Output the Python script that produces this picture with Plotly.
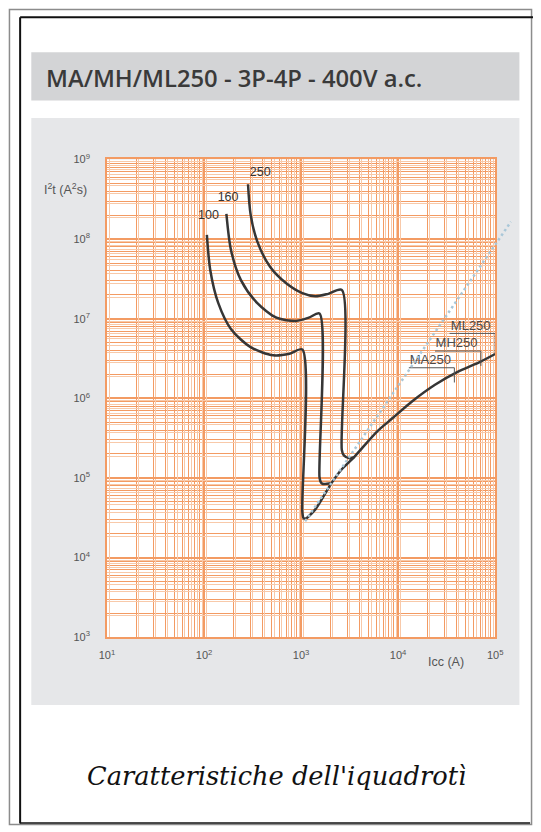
import plotly.graph_objects as go

W, H = 541, 832

# ---------------- data ----------------
x_tick_vals = [1e1, 1e2, 1e3, 1e4, 1e5]
x_tick_text = ["10<sup>1</sup>", "10<sup>2</sup>", "10<sup>3</sup>", "10<sup>4</sup>", "10<sup>5</sup>"]
y_tick_vals = [1e3, 1e4, 1e5, 1e6, 1e7, 1e8, 1e9]
y_tick_text = ["10<sup>3</sup>", "10<sup>4</sup>", "10<sup>5</sup>", "10<sup>6</sup>",
               "10<sup>7</sup>", "10<sup>8</sup>", "10<sup>9</sup>"]

# thermal-magnetic curves (Icc [A], I2t [A2s]) for the three rated currents
c100_I = [107, 116, 140, 190, 302, 516, 759, 1030, 1030, 1062, 1130]
c100_E = [1.13e8, 4.06e7, 1.58e7, 7.38e6, 4.39e6, 3.47e6, 3.63e6, 4.11e6, 3.8e4, 3.12e4, 3.09e4]

c160_I = [170, 190, 240, 352, 558, 885, 1202, 1549, 1549, 1600, 1660, 2056]
c160_E = [2.07e8, 7.18e7, 3.05e7, 1.58e7, 1.03e7, 9.37e6, 1.03e7, 1.16e7, 1.02e5, 8.8e4, 8.45e4, 8.6e4]

c250_I = [284, 302, 352, 479, 703, 1030, 1403, 1905, 2630, 2630, 2760, 3162, 3524]
c250_E = [4.88e8, 2.04e8, 9.5e7, 4.48e7, 2.78e7, 2.09e7, 1.91e7, 2.05e7, 2.3e7, 2.25e5, 1.92e5, 1.77e5, 1.83e5]

# let-through energy curve (common branch)
let_I = [1130, 1403, 2056, 2588, 3524, 6026, 8851, 1.40e4, 2.4e4, 4.1e4, 7.0e4, 1.0e5]
let_E = [3.09e4, 4.03e4, 8.6e4, 1.26e5, 1.83e5, 3.8e5, 5.7e5, 9.2e5, 1.48e6, 2.15e6, 2.87e6, 3.6e6]

# dotted reference line
ref_I = [1100, 1.455e5]
ref_E = [2.86e4, 1.65e8]

# breaking capacity markers
brk_names = ["ML250", "MH250", "MA250"]
brk_Icu = [1.0e5, 7.13e4, 3.8e4]
brk_start = [3.39e4, 2.4e4, 1.29e4]
brk_level = [6.53e6, 3.92e6, 2.42e6]
brk_bottom = [3.6e6, 2.55e6, 1.58e6]
brk_text_I = [5.6e4, 4.0e4, 2.15e4]
brk_text_E = [8.0e6, 4.8e6, 2.97e6]

curve_names = ["100", "160", "250"]
curve_lab_I = [111, 177, 380]
curve_lab_E = [1.94e8, 3.27e8, 6.7e8]

# ---------------- geometry helpers (pixels -> paper) ----------------
def px(x):
    return x / W

def py(y):
    return 1 - y / H

PL, PR, PT, PB = 102, 502, 154, 640

ORANGE = "#f39b63"
PALE = "#f8c9a9"
CURVE = "#363636"
TICKFONT = dict(family="Liberation Sans, Arial, sans-serif", size=11, color="#555555")
LABFONT = dict(family="Liberation Sans, Arial, sans-serif", size=12.5, color="#555555")

fig = go.Figure()

for I, E in [(c100_I, c100_E), (c160_I, c160_E), (c250_I, c250_E), (let_I, let_E)]:
    fig.add_trace(go.Scatter(x=I, y=E, mode="lines",
                             line=dict(color=CURVE, width=2.5, shape="spline", smoothing=0.8),
                             hoverinfo="skip", showlegend=False))

for Icu, s, lv, b in zip(brk_Icu, brk_start, brk_level, brk_bottom):
    fig.add_trace(go.Scatter(x=[s, Icu, Icu], y=[lv, lv, b], mode="lines",
                             line=dict(color="#555555", width=1),
                             hoverinfo="skip", showlegend=False))

fig.add_trace(go.Scatter(x=brk_text_I, y=brk_text_E, mode="text", text=brk_names,
                         textfont=dict(family="Liberation Sans, Arial", size=13, color="#4a4a4a"),
                         hoverinfo="skip", showlegend=False))

fig.add_trace(go.Scatter(x=curve_lab_I, y=curve_lab_E, mode="text", text=curve_names,
                         textfont=dict(family="Liberation Sans, Arial", size=12.5, color="#333333"),
                         hoverinfo="skip", showlegend=False))

fig.add_trace(go.Scatter(x=[], y=[], xaxis="x2", yaxis="y2", showlegend=False, hoverinfo="skip"))

fig.add_trace(go.Scatter(x=ref_I, y=ref_E, xaxis="x3", yaxis="y3", mode="lines",
                         line=dict(color="#a9c7d8", width=2.5, dash="2.5px,3px"),
                         hoverinfo="skip", showlegend=False))

dom_x = [px(PL), px(PR)]
dom_y = [py(PB), py(PT)]

fig.update_layout(
    width=W, height=H, autosize=False,
    margin=dict(l=0, r=0, t=0, b=0),
    paper_bgcolor="white",
    plot_bgcolor="rgba(0,0,0,0)",
    showlegend=False,
    xaxis=dict(type="log", range=[1, 5], domain=dom_x, anchor="y",
               tickmode="array", tickvals=x_tick_vals, ticktext=x_tick_text,
               tickfont=TICKFONT, ticks="outside", ticklen=7, tickcolor="rgba(0,0,0,0)",
               showgrid=True, gridcolor=ORANGE, gridwidth=1.5,
               minor=dict(dtick="D1", showgrid=True, gridcolor=ORANGE, gridwidth=1),
               showline=True, linecolor=ORANGE, linewidth=1.5, mirror=True,
               zeroline=False, fixedrange=True),
    yaxis=dict(type="log", range=[3, 9], domain=dom_y, anchor="x",
               tickmode="array", tickvals=y_tick_vals, ticktext=y_tick_text,
               tickfont=TICKFONT, ticks="outside", ticklen=13, tickcolor="rgba(0,0,0,0)",
               showgrid=True, gridcolor=ORANGE, gridwidth=1.5,
               minor=dict(dtick="D1", showgrid=True, gridcolor=ORANGE, gridwidth=1),
               showline=True, linecolor=ORANGE, linewidth=1.5, mirror=True,
               zeroline=False, fixedrange=True),
    xaxis2=dict(type="log", range=[1 - 0.025, 5 - 0.025], overlaying="x", anchor="y2",
                showticklabels=False, ticks="", showgrid=True, gridcolor=PALE, gridwidth=1,
                minor=dict(dtick="D1", showgrid=True, gridcolor=PALE, gridwidth=1),
                zeroline=False, fixedrange=True),
    yaxis2=dict(type="log", range=[3 + 0.031, 9 + 0.031], overlaying="y", anchor="x2",
                showticklabels=False, ticks="", showgrid=True, gridcolor=PALE, gridwidth=1,
                minor=dict(dtick="D1", showgrid=True, gridcolor=PALE, gridwidth=1),
                zeroline=False, fixedrange=True),
    xaxis3=dict(type="log", range=[1, 5.18], domain=[px(PL), px(520)], anchor="y3",
                visible=False, fixedrange=True),
    yaxis3=dict(type="log", range=[3, 9], domain=dom_y, anchor="x3",
                visible=False, fixedrange=True),
)

shapes = [
    dict(type="rect", xref="paper", yref="paper", x0=px(24), x1=px(527), y0=py(709), y1=py(112),
         fillcolor="#e6e7e9", line=dict(width=0), layer="below"),
    dict(type="rect", xref="paper", yref="paper", x0=px(24), x1=px(527), y0=py(94), y1=py(45),
         fillcolor="#d3d4d6", line=dict(width=0), layer="below"),
    dict(type="rect", xref="paper", yref="paper", x0=px(PL), x1=px(PR), y0=py(PB), y1=py(PT),
         fillcolor="white", line=dict(width=0), layer="below"),
    dict(type="rect", xref="paper", yref="paper", x0=px(1.5), x1=px(539.5), y0=py(830.5), y1=py(1.5),
         line=dict(color="#8c8c8c", width=1.5), layer="above"),
    dict(type="line", xref="paper", yref="paper", x0=px(12.5), x1=px(12.5), y0=py(829.5), y1=py(9.5),
         line=dict(color="#111111", width=2), layer="above"),
    dict(type="line", xref="paper", yref="paper", x0=px(12.5), x1=px(541), y0=py(9.5), y1=py(9.5),
         line=dict(color="#111111", width=2), layer="above"),
    dict(type="line", xref="paper", yref="paper", x0=px(12.5), x1=px(538), y0=py(829), y1=py(829),
         line=dict(color="#111111", width=1.5), layer="above"),
]
fig.update_layout(shapes=shapes)

annotations = [
    dict(text="MA/MH/ML250 - 3P-4P - 400V a.c.", xref="paper", yref="paper",
         x=px(37), y=py(71), xanchor="left", yanchor="middle", showarrow=False,
         font=dict(family="Open Sans, sans-serif", size=23.8, color="#3a3a3a", weight=600)),
    dict(text="I<sup>2</sup>t (A<sup>2</sup>s)", xref="paper", yref="paper",
         x=px(83), y=py(184), xanchor="right", yanchor="middle", showarrow=False,
         font=LABFONT),
    dict(text="Icc (A)", xref="paper", yref="paper",
         x=px(451), y=py(665), xanchor="center", yanchor="middle", showarrow=False,
         font=LABFONT),
    dict(text="<i>Caratteristiche dell'iquadrotì</i>", xref="paper", yref="paper",
         x=px(277), y=py(781), xanchor="center", yanchor="middle", showarrow=False,
         font=dict(family="DejaVu Serif, serif", size=25.7, color="#111111")),
]
fig.update_layout(annotations=annotations)

fig.write_html(
    "out.html",
    config={"displayModeBar": False},
    post_script="document.body.style.margin='0';document.body.style.padding='0';"
                "document.documentElement.style.overflow='hidden';document.body.style.overflow='hidden';",
)
